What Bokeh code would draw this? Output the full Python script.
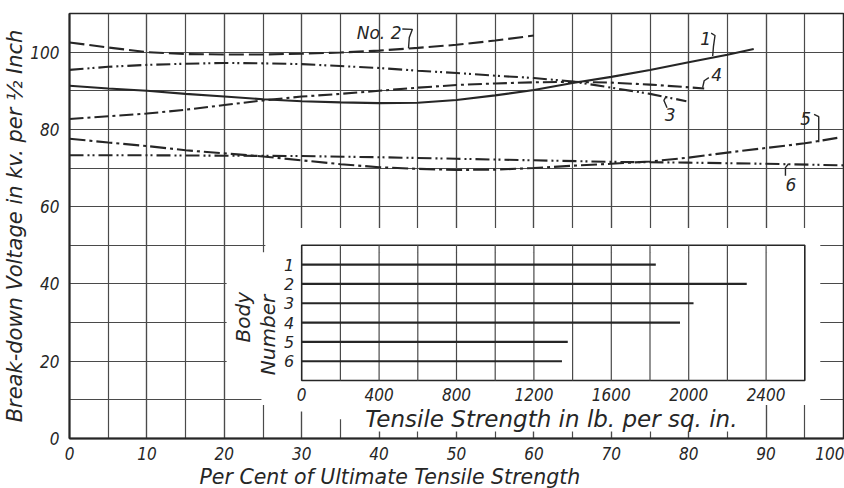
import math
from bokeh.plotting import figure
from bokeh.models import Range1d, SingleIntervalTicker, Label
from bokeh.core.properties import value
from bokeh.embed import file_html
from bokeh.resources import INLINE

# ---------------- data ----------------
# main chart: break-down voltage (kv per 1/2 inch) vs per cent of ultimate tensile strength
no2_x = [0, 5, 10, 15, 20, 25, 30, 35, 40, 45, 50, 55, 60]
no2_y = [102.5, 101.2, 100.0, 99.5, 99.4, 99.4, 99.6, 99.9, 100.4, 101.1, 101.9, 103.0, 104.3]

c1_x = [0, 5, 10, 15, 20, 25, 30, 35, 40, 45, 50, 55, 60, 65, 70, 75, 80, 85, 88.4]
c1_y = [91.3, 90.6, 90.0, 89.2, 88.5, 87.8, 87.3, 87.0, 86.8, 86.9, 87.6, 88.8, 90.2, 92.0, 93.6, 95.4, 97.4, 99.3, 100.8]

c3_x = [0, 5, 10, 15, 20, 25, 30, 35, 40, 45, 50, 55, 60, 65, 70, 75, 79.7]
c3_y = [95.4, 96.2, 96.7, 97.0, 97.2, 97.1, 96.9, 96.4, 95.9, 95.2, 94.6, 93.9, 93.3, 92.4, 90.8, 89.2, 87.3]

c4_x = [0, 5, 10, 15, 20, 25, 30, 35, 40, 45, 50, 55, 60, 65, 70, 75, 80, 82]
c4_y = [82.7, 83.4, 84.1, 85.1, 86.3, 87.5, 88.5, 89.2, 90.0, 90.8, 91.5, 91.9, 92.2, 92.3, 92.1, 91.6, 90.9, 90.6]

c5_x = [0, 5, 10, 15, 20, 25, 30, 35, 40, 45, 50, 55, 60, 65, 70, 75, 80, 85, 90, 95, 99.2]
c5_y = [77.6, 76.6, 75.7, 74.6, 73.8, 73.0, 72.0, 71.0, 70.2, 69.8, 69.5, 69.6, 70.0, 70.6, 71.1, 71.7, 72.7, 74.0, 75.2, 76.4, 77.8]

c6_x = [0, 10, 20, 30, 40, 50, 60, 70, 80, 90, 100]
c6_y = [73.3, 73.3, 73.2, 73.1, 72.8, 72.4, 72.0, 71.6, 71.4, 71.1, 70.7]

# inset: tensile strength (lb per sq in) by body number
body_numbers = [1, 2, 3, 4, 5, 6]
tensile_strength = [1830, 2300, 2025, 1955, 1375, 1345]
inset_ticks = [0, 400, 800, 1200, 1600, 2000, 2400]
inset_grid = [200, 400, 600, 800, 1000, 1200, 1400, 1600, 1800, 2000, 2200, 2400]

# ---------------- styling ----------------
INK = "#262626"
GRIDC = "#4a4a4a"
FONT = "DejaVu Sans"
NARROW = "DejaVu Sans Condensed"

p = figure(width=844, height=488, output_backend="svg", toolbar_location=None,
           x_range=Range1d(0, 100), y_range=Range1d(0, 110),
           min_border_left=67, min_border_right=1, min_border_top=13, min_border_bottom=48,
           title="Per Cent of Ultimate Tensile Strength", title_location="below")
p.background_fill_color = "white"
p.border_fill_color = "white"
p.outline_line_color = INK
p.outline_line_width = 1.5

p.title.align = "left"
p.title.offset = 130
p.title.standoff = 0
p.title.text_font = FONT
p.title.text_font_style = "italic"
p.title.text_font_size = "20.5px"
p.title.text_color = INK

# inset coordinate systems mapped onto main plot
p.extra_x_ranges = {"ts": Range1d(-1200, 2800)}
p.extra_y_ranges = {"body": Range1d(10, -12)}

p.xaxis.ticker = SingleIntervalTicker(interval=10, num_minor_ticks=2)
p.yaxis.ticker = SingleIntervalTicker(interval=20, num_minor_ticks=2)
for ax in (p.xaxis, p.yaxis):
    ax.major_tick_line_color = None
    ax.minor_tick_line_color = None
    ax.axis_line_color = INK
    ax.axis_line_width = 2
    ax.major_label_text_font = NARROW
    ax.major_label_text_font_style = "italic"
    ax.major_label_text_font_size = "17px"
    ax.major_label_text_color = INK
p.xaxis.major_label_standoff = 2
p.yaxis.major_label_standoff = 4
p.yaxis.axis_label = "Break-down Voltage in kv. per \u00bd Inch"
p.yaxis.axis_label_standoff = 0
p.yaxis.axis_label_text_font = FONT
p.yaxis.axis_label_text_font_style = "italic"
p.yaxis.axis_label_text_font_size = "21px"
p.yaxis.axis_label_text_color = INK

for g in (p.xgrid, p.ygrid):
    g.grid_line_color = GRIDC
    g.grid_line_width = 1.2
    g.grid_line_alpha = 1.0
    g.minor_grid_line_color = GRIDC
    g.minor_grid_line_width = 1.2

# white masks where the grid is interrupted around the inset
mask_left = [20.3, 25.3, 24.8, 27.5, 32.5, 37.5]
mask_right = [97, 97, 97, 32.5, 37.5, 87.5]
mask_bottom = [11, 48.2, 8.7, 7.0, 5.0, 1.8]
mask_top = [48.2, 54.5, 11, 8.7, 8.7, 8.7]
p.quad(left=mask_left, right=mask_right, bottom=mask_bottom, top=mask_top,
       fill_color="white", line_color=None)

# ---------------- curves ----------------
LW = 2.1
p.line(no2_x, no2_y, line_color=INK, line_width=LW, line_dash="15 5")
p.line(c1_x, c1_y, line_color=INK, line_width=LW)
p.line(c3_x, c3_y, line_color=INK, line_width=LW, line_dash="14 4 2 3 2 4")
p.line(c4_x, c4_y, line_color=INK, line_width=LW, line_dash="14 4 3 4")
p.line(c5_x, c5_y, line_color=INK, line_width=LW, line_dash="16 4 3 4")
p.line(c6_x, c6_y, line_color=INK, line_width=LW, line_dash="14 4 2 3 2 4")

# curve labels
lab_text = ["No. 2", "1", "4", "3", "5", "6"]
lab_x = [40.0, 82.2, 83.6, 77.6, 95.1, 93.2]
lab_y = [104.9, 103.6, 94.3, 83.8, 82.7, 65.7]
p.text(x=lab_x, y=lab_y, text=lab_text, text_align="center", text_baseline="middle",
       text_font=value(FONT), text_font_style="italic", text_font_size="17px", text_color=INK)
hook_xs = [[43.0, 44.3, 43.9, 43.8], [82.9, 83.4, 83.2, 83.1], [82.6, 82.0, 81.8],
           [77.2, 76.8, 77.1], [96.2, 96.8, 96.8, 96.8], [92.5, 92.5, 92.9]]
hook_ys = [[106.0, 105.9, 103.8, 101.0], [104.9, 104.3, 101.5, 99.0], [93.4, 92.6, 90.8],
           [85.6, 87.5, 88.6], [83.9, 83.3, 80.0, 76.7], [68.0, 70.1, 71.1]]
p.multi_line(hook_xs, hook_ys, line_color=INK, line_width=1.4)

# ---------------- inset ----------------
p.quad(left=[0], right=[2600], top=[0], bottom=[7], x_range_name="ts", y_range_name="body",
       fill_color=None, line_color=INK, line_width=1.6)
p.segment(x0=inset_grid, x1=inset_grid, y0=[0] * len(inset_grid), y1=[7] * len(inset_grid),
          x_range_name="ts", y_range_name="body", line_color=GRIDC, line_width=1.2)
p.segment(x0=[0] * len(body_numbers), x1=tensile_strength, y0=body_numbers, y1=body_numbers,
          x_range_name="ts", y_range_name="body", line_color=INK, line_width=2.2)
p.text(x=inset_ticks, y=[7.7] * len(inset_ticks), text=[str(t) for t in inset_ticks],
       x_range_name="ts", y_range_name="body", text_align="center", text_baseline="middle",
       text_font=value(NARROW), text_font_style="italic", text_font_size="17px", text_color=INK)
p.text(x=[-65] * len(body_numbers), y=body_numbers, text=[str(b) for b in body_numbers],
       x_range_name="ts", y_range_name="body", text_align="center", text_baseline="middle",
       text_font=value(FONT), text_font_style="italic", text_font_size="16px", text_color=INK)
p.text(x=[22.4, 25.7], y=[31.4, 26.8], text=["Body", "Number"], angle=math.pi / 2,
       text_align="center", text_baseline="middle",
       text_font=value(FONT), text_font_style="italic", text_font_size="20px", text_color=INK)
p.add_layout(Label(x=1290, y=9.0, x_range_name="ts", y_range_name="body",
                   text="Tensile Strength in lb. per sq. in.", text_align="center",
                   text_baseline="middle", text_font=FONT, text_font_style="italic",
                   text_font_size="23px", text_color=INK))

open("out.html", "w").write(file_html(p, INLINE))
